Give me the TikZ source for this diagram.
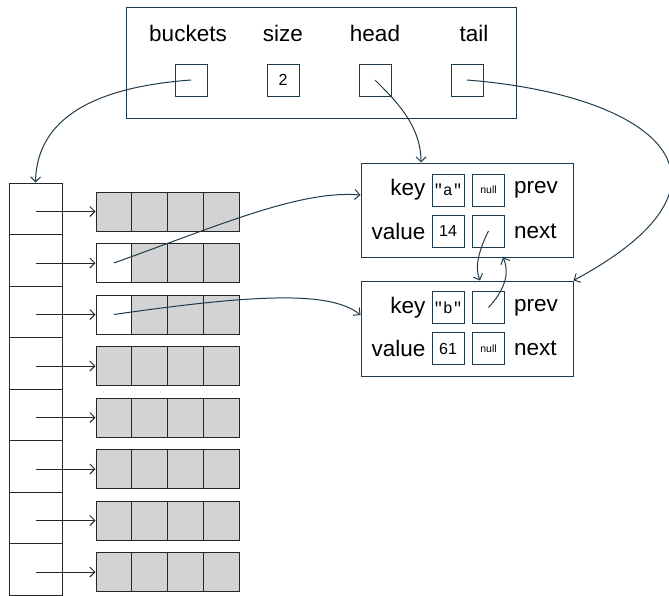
\documentclass[tikz,border=0pt]{standalone}
\usepackage{fontspec}
\setmainfont{Liberation Sans}
\newfontfamily\codefont{Liberation Mono}
\usetikzlibrary{arrows.meta}

\definecolor{ink}{HTML}{1F3A4B}
\definecolor{cellgray}{HTML}{D3D3D3}

\tikzset{
  lbl/.style={font=\fontsize{22.5}{22.5}\selectfont, inner sep=0pt},
  field/.style={draw=ink, line width=1pt, minimum width=32pt, minimum height=32pt, inner sep=0pt, font=\fontsize{16}{16}\selectfont},
  entry/.style={draw=ink, line width=1pt, minimum width=212pt, minimum height=94pt, inner sep=0pt},
  slot/.style={draw=black!85, line width=1pt, minimum width=53pt, minimum height=51.5pt, inner sep=0pt},
  cell/.style={draw=black!85, line width=1pt, minimum width=35.75pt, minimum height=39pt, inner sep=0pt},
  ptr/.style={ink, line width=1pt, -{Straight Barb[length=5pt,width=10pt]}},
  link/.style={black!85, line width=1pt, -{Straight Barb[length=5pt,width=10pt]}},
}

\begin{document}
\begin{tikzpicture}[x=1pt, y=-1pt]
  \useasboundingbox (0,0) rectangle (669,595);

  % the map struct
  \node[draw=ink, line width=1pt, minimum width=390pt, minimum height=111pt, inner sep=0pt] (map) at (321,62.5) {};
  \node[lbl] (t-buckets) at (188,33) {buckets};
  \node[lbl] (t-size) at (283,33) {size};
  \node[lbl] (t-head) at (375,33) {head};
  \node[lbl] (t-tail) at (474,33) {tail};
  \node[field] (buckets) at (191,80) {};
  \node[field] (size) at (283,80) {2};
  \node[field] (head) at (375,80) {};
  \node[field] (tail) at (467,80) {};

  % entries
  \node[entry] (na) at (467,210) {};
  \node[field] (na-key) at (448,190) {\codefont"a"};
  \node[field] (na-prev) at (488.5,190) {\fontsize{10.5}{10.5}\selectfont null};
  \node[field] (na-val) at (448,231) {14};
  \node[field] (na-next) at (488.5,231) {};
  \node[lbl, anchor=east] at ([xshift=-6pt]na-key.west) {key};
  \node[lbl, anchor=east] at ([xshift=-6pt]na-val.west) {value};
  \node[lbl, anchor=west] at ([xshift=9pt]na-prev.east) {prev};
  \node[lbl, anchor=west] at ([xshift=9pt]na-next.east) {next};

  \node[entry, minimum height=95pt] (nb) at (467,328.5) {};
  \node[field] (nb-key) at (448,307.5) {\codefont"b"};
  \node[field] (nb-prev) at (488.5,307.5) {};
  \node[field] (nb-val) at (448,348.5) {61};
  \node[field] (nb-next) at (488.5,348.5) {\fontsize{10.5}{10.5}\selectfont null};
  \node[lbl, anchor=east] at ([xshift=-6pt]nb-key.west) {key};
  \node[lbl, anchor=east] at ([xshift=-6pt]nb-val.west) {value};
  \node[lbl, anchor=west] at ([xshift=9pt]nb-prev.east) {prev};
  \node[lbl, anchor=west] at ([xshift=9pt]nb-next.east) {next};

  % bucket array
  \foreach \i/\f in {0/cellgray,1/white,2/white,3/cellgray,4/cellgray,5/cellgray,6/cellgray,7/cellgray} {
    \node[slot] (slot-\i) at (35.5,208.75+51.5*\i) {};
    \node[cell, fill=\f] (cell-\i-0) at (113.875,211.5+51.5*\i) {};
    \foreach \j in {1,2,3}
      \node[cell, fill=cellgray] (cell-\i-\j) at (113.875+35.75*\j,211.5+51.5*\i) {};
    \draw[link] (slot-\i.center |- cell-\i-0.west) -- (cell-\i-0.west);
  }

  % pointers
  \draw[ptr] (buckets.center) .. controls (110,86) and (37,110) .. (slot-0.north);
  \draw[ptr] (head.center) .. controls (395,100) and (421,125) .. ([xshift=-46pt]na.north);
  \draw[ptr] (tail.center) .. controls (655,95) and (760,180) .. (nb.north east);
  \draw[ptr] (na-next.center) .. controls (480,248) and (474,266) .. ([xshift=13pt]nb.north);
  \draw[ptr] (nb-prev.center) .. controls (505,290) and (510,272) .. ([xshift=36pt]na.south);
  \draw[ptr] (cell-1-0.center) .. controls (220,225) and (300,190) .. ([yshift=15pt]na.west);
  \draw[ptr] (cell-2-0.center) .. controls (250,295) and (330,290) .. ([yshift=13.5pt]nb.west);
\end{tikzpicture}
\end{document}
